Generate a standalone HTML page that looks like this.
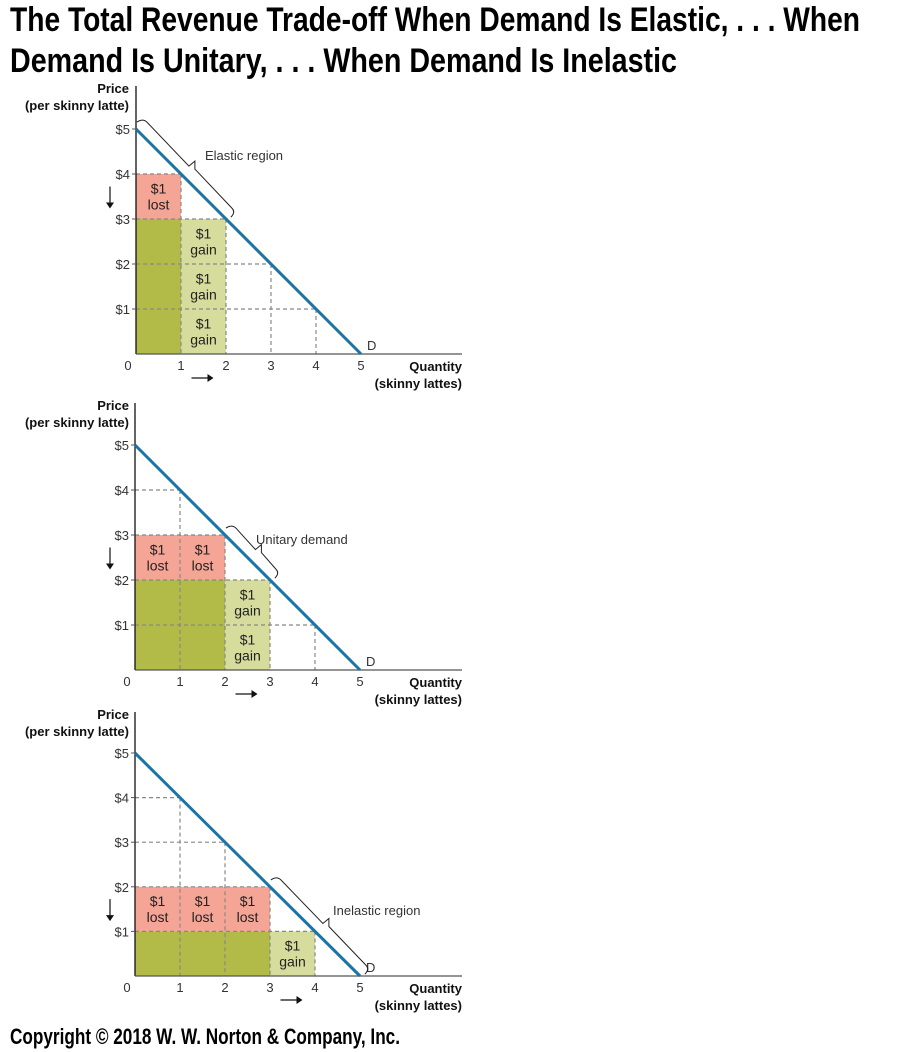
<!DOCTYPE html>
<html><head><meta charset="utf-8"><style>
body{margin:0;background:#fff;width:900px;height:1052px;overflow:hidden}
svg{display:block}
text{font-family:"Liberation Sans",sans-serif}
.tk{font-size:13px;fill:#333}
.lb{font-size:13px;font-weight:bold;fill:#111}
.cell{font-size:14px;fill:#222;text-anchor:middle}
</style></head><body>
<svg id="chart" width="900" height="1052">
<text x="10" y="31" font-size="34" font-weight="bold" textLength="850" lengthAdjust="spacingAndGlyphs" style="font-family:'Liberation Sans Narrow','Liberation Sans',sans-serif">The Total Revenue Trade-off When Demand Is Elastic, . . . When</text>
<text x="10" y="72" font-size="34" font-weight="bold" textLength="667" lengthAdjust="spacingAndGlyphs" style="font-family:'Liberation Sans Narrow','Liberation Sans',sans-serif">Demand Is Unitary, . . . When Demand Is Inelastic</text>
<text x="10" y="1044" font-size="22" font-weight="bold" textLength="390" lengthAdjust="spacingAndGlyphs" style="font-family:'Liberation Sans Narrow','Liberation Sans',sans-serif">Copyright © 2018 W. W. Norton &amp; Company, Inc.</text>
</svg>
<script>
const panelNames = ["elastic-panel","unitary-panel","inelastic-panel"];
const oldPrices = [4, 3, 2];
const newPrices = [3, 2, 1];
const oldQtys = [1, 2, 3];
const newQtys = [2, 3, 4];
const regionLabels = ["Elastic region","Unitary demand","Inelastic region"];
const priceTicks = ["$1","$2","$3","$4","$5"];
const qtyTicks = ["1","2","3","4","5"];
const demandIntercept = 5;

const NS="http://www.w3.org/2000/svg";
const svg=document.getElementById('chart');
function mk(tag,attrs,parent,txt){const e=document.createElementNS(NS,tag);for(const k in attrs)e.setAttribute(k,attrs[k]);if(txt!==undefined)e.textContent=txt;(parent||svg).appendChild(e);return e;}
const origins=[[136,354],[135,670],[135,976]];
const axisTops=[86,403,712];
const U=45;
panelNames.forEach((pn,i)=>{
  const [ox,oy]=origins[i];
  const g=mk('g',{});
  
  
  const X=q=>ox+q*U, Y=p=>oy-p*(i==2?44.6:U);
  const P1=oldPrices[i],P2=newPrices[i],Q1=oldQtys[i],Q2=newQtys[i];
  const kept=mk('rect',{x:X(0),y:Y(P2),width:X(Q1)-X(0),height:Y(0)-Y(P2),fill:'#b2bb48'},g);
  
  
  const lost=mk('rect',{x:X(0),y:Y(P1),width:X(Q1)-X(0),height:Y(P2)-Y(P1),fill:'#f5a595'},g);
  
  
  const gain=mk('rect',{x:X(Q1),y:Y(P2),width:X(Q2)-X(Q1),height:Y(0)-Y(P2),fill:'#d6dc9c'},g);
  
  
  for(let q=1;q<demandIntercept;q++){
    const p=demandIntercept-q;
    mk('line',{x1:X(0),y1:Y(p),x2:X(q),y2:Y(p),stroke:'#888','stroke-dasharray':'4,3','stroke-width':1.2},g);
    mk('line',{x1:X(q),y1:Y(p),x2:X(q),y2:Y(0),stroke:'#888','stroke-dasharray':'4,3','stroke-width':1.2},g);
  }
  for(let q=0;q<Q1;q++){
    for(let p=P2;p<P1;p++){
      const cx=(X(q)+X(q+1))/2, cy=(Y(p)+Y(p+1))/2;
      mk('text',{x:cx,y:cy-3,class:'cell'},g,'$1');
      mk('text',{x:cx,y:cy+13,class:'cell'},g,'lost');
    }
  }
  for(let q=Q1;q<Q2;q++){
    for(let p=0;p<P2;p++){
      const cx=(X(q)+X(q+1))/2, cy=(Y(p)+Y(p+1))/2;
      mk('text',{x:cx,y:cy-3,class:'cell'},g,'$1');
      mk('text',{x:cx,y:cy+13,class:'cell'},g,'gain');
    }
  }
  mk('line',{x1:ox,y1:axisTops[i],x2:ox,y2:oy,stroke:'#111','stroke-width':1.3},g);
  mk('line',{x1:ox,y1:oy,x2:462,y2:oy,stroke:'#555','stroke-width':1.3},g);
  const d=mk('line',{x1:X(0),y1:Y(demandIntercept),x2:X(demandIntercept),y2:Y(0),stroke:'#1a75a6','stroke-width':3},g);
  
  
  mk('text',{x:X(demandIntercept)+6,y:Y(0)-4,class:'tk'},g,'D');
  priceTicks.forEach((t,k)=>{mk('line',{x1:ox-4,y1:Y(k+1),x2:ox,y2:Y(k+1),stroke:'#555'},g);mk('text',{x:ox-6,y:Y(k+1)+5,class:'tk','text-anchor':'end'},g,t);});
  qtyTicks.forEach((t,k)=>{mk('text',{x:X(k+1),y:oy+16,class:'tk','text-anchor':'middle'},g,t);});
  mk('text',{x:ox-8,y:oy+16,class:'tk','text-anchor':'middle'},g,'0');
  mk('text',{x:129,y:axisTops[i]+7,class:'lb','text-anchor':'end'},g,'Price');
  mk('text',{x:129,y:axisTops[i]+24,class:'lb','text-anchor':'end'},g,'(per skinny latte)');
  mk('text',{x:462,y:oy+17,class:'lb','text-anchor':'end'},g,'Quantity');
  mk('text',{x:462,y:oy+34,class:'lb','text-anchor':'end'},g,'(skinny lattes)');
  const ay=(Y(P1)+Y(P2))/2;
  mk('line',{x1:110,y1:ay-10,x2:110,y2:ay+8,stroke:'#111','stroke-width':1.2},g);
  mk('path',{d:`M106,${ay+6} L110,${ay+12} L114,${ay+6}Z`,fill:'#111'},g);
  const ax=(X(Q1)+X(Q2))/2;
  mk('line',{x1:ax-12,y1:oy+24,x2:ax+6,y2:oy+24,stroke:'#111','stroke-width':1.2},g);
  mk('path',{d:`M${ax+4},${oy+20} L${ax+10},${oy+24} L${ax+4},${oy+28}Z`,fill:'#111'},g);
  const ranges=[[0,2],[2,3],[3,5]];
  const [qa,qb]=ranges[i];
  const off=7;
  const x1=X(qa)+off*0.7,y1=Y(demandIntercept-qa)-off*0.7,x2=X(qb)+off*0.7,y2=Y(demandIntercept-qb)-off*0.7;
  const mx=(x1+x2)/2+6,my=(y1+y2)/2-6;
  const br=mk('path',{d:`M${x1-4},${y1-2} Q${x1+2},${y1-6} ${x1+6},${y1-2} L${mx-3},${my+3} L${mx+3},${my-2} L${mx+3},${my+6} L${x2+1},${y2-6} Q${x2+5},${y2-2} ${x2},${y2+3}`,fill:'none',stroke:'#222','stroke-width':1},g);
  
  
  const lx=[205,256,333][i], ly=[160,544,915][i];
  mk('text',{x:lx,y:ly,class:'tk'},g,regionLabels[i]);
});
</script>
</body></html>
